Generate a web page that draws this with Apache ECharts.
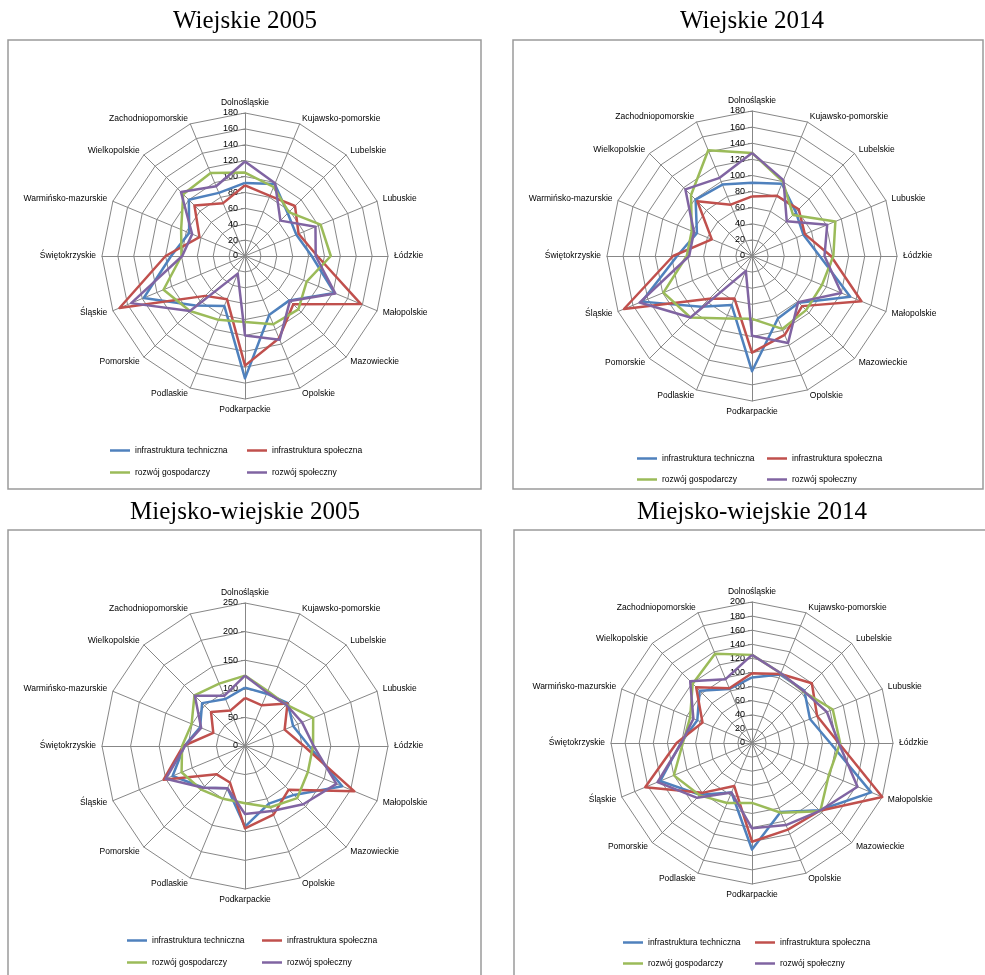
<!DOCTYPE html>
<html>
<head>
<meta charset="utf-8">
<script src="https://cdn.jsdelivr.net/npm/echarts@6/dist/echarts.min.js"></script>
<style>
html,body{margin:0;padding:0;background:#fff;}
#chart{width:985px;height:975px;}
</style>
</head>
<body>
<div id="chart"></div>
<script>
const categories = ['Dolnośląskie','Kujawsko-pomorskie','Lubelskie','Lubuskie','Łódzkie','Małopolskie','Mazowieckie','Opolskie','Podkarpackie','Podlaskie','Pomorskie','Śląskie','Świętokrzyskie','Warmińsko-mazurskie','Wielkopolskie','Zachodniopomorskie'];
const seriesNames = ['infrastruktura techniczna','infrastruktura społeczna','rozwój gospodarczy','rozwój społeczny'];
const panelTitles = ['Wiejskie 2005','Wiejskie 2014','Miejsko-wiejskie 2005','Miejsko-wiejskie 2014'];
const axisMax = [180, 180, 250, 200];
const axisStep = [20, 20, 50, 20];

// Wiejskie 2005
const w2005_tech  = [92, 98, 76, 70, 84, 122, 79, 80, 154, 68, 88, 138, 93, 76, 100, 86];
const w2005_spol  = [89, 82, 89, 73, 91, 158, 86, 112, 138, 59, 71, 171, 100, 62, 90, 72];
const w2005_gosp  = [105, 94, 78, 103, 108, 84, 95, 93, 83, 87, 98, 111, 80, 87, 110, 113];
const w2005_rozw  = [119, 99, 63, 96, 89, 123, 80, 114, 100, 24, 98, 155, 79, 72, 114, 95];
// Wiejskie 2014
const w2014_tech  = [91, 97, 77, 69, 84, 132, 82, 84, 143, 66, 89, 148, 93, 74, 99, 96];
const w2014_spol  = [74, 81, 82, 71, 98, 147, 88, 106, 120, 57, 75, 172, 98, 54, 96, 69];
const w2014_gosp  = [128, 100, 72, 112, 101, 94, 95, 98, 78, 84, 108, 119, 81, 81, 107, 142];
const w2014_rozw  = [128, 102, 61, 101, 90, 120, 81, 117, 99, 20, 108, 151, 78, 78, 117, 105];
// Miejsko-wiejskie 2005
const mw2005_tech = [102, 99, 106, 91, 112, 184, 121, 109, 141, 80, 103, 137, 106, 85, 106, 89];
const mw2005_spol = [84, 77, 105, 75, 103, 207, 108, 130, 144, 69, 70, 154, 108, 60, 84, 67];
const mw2005_gosp = [123, 104, 102, 129, 119, 119, 129, 116, 100, 100, 108, 120, 110, 101, 125, 118];
const mw2005_rozw = [123, 101, 102, 108, 120, 173, 144, 123, 119, 80, 103, 150, 105, 83, 124, 95];
// Miejsko-wiejskie 2014
const mw2014_tech = [93, 105, 105, 89, 111, 183, 135, 106, 151, 76, 104, 141, 101, 84, 105, 83];
const mw2014_spol = [99, 106, 120, 100, 123, 200, 136, 133, 140, 66, 100, 164, 107, 76, 112, 84];
const mw2014_gosp = [125, 107, 103, 124, 125, 118, 137, 107, 85, 92, 105, 120, 98, 95, 119, 137];
const mw2014_rozw = [125, 107, 104, 115, 123, 162, 136, 126, 121, 76, 110, 145, 100, 90, 124, 98];

const panelData = [
  [w2005_tech, w2005_spol, w2005_gosp, w2005_rozw],
  [w2014_tech, w2014_spol, w2014_gosp, w2014_rozw],
  [mw2005_tech, mw2005_spol, mw2005_gosp, mw2005_rozw],
  [mw2014_tech, mw2014_spol, mw2014_gosp, mw2014_rozw]
];

const colors = ['#4F81BD', '#C0504D', '#9BBB59', '#8064A2'];
const centers = [[245, 256], [752, 256], [245, 746], [752, 743]];
const radii = [143, 145, 143, 141];
const titlePos = [[245, 9], [752, 9], [245, 500], [752, 500]];
const boxes = [[8, 40, 473, 449], [513, 40, 470, 449], [8, 530, 473, 470], [514, 530, 480, 470]];
const legendPos = [
  [[110, 452], [247, 452], [110, 474], [247, 474]],
  [[637, 460], [767, 460], [637, 481], [767, 481]],
  [[127, 942], [262, 942], [127, 964], [262, 964]],
  [[623, 944], [755, 944], [623, 965], [755, 965]]
];

// ECharts radar lays indicators counter-clockwise; reorder so categories run clockwise from top
const order = [0];
for (let i = categories.length - 1; i >= 1; i--) order.push(i);

const FONT = 'Liberation Sans';
const gridColor = '#878787';

const radar = [], series = [], title = [], legend = [], graphic = [];
for (let p = 0; p < 4; p++) {
  radar.push({
    center: centers[p],
    radius: radii[p],
    startAngle: 90,
    shape: 'polygon',
    splitNumber: axisMax[p] / axisStep[p],
    nameGap: 6,
    axisName: {color: '#000', fontSize: 8.5, fontFamily: FONT},
    splitLine: {lineStyle: {color: gridColor, width: 1}},
    splitArea: {show: false},
    axisLine: {lineStyle: {color: gridColor, width: 1}},
    axisLabel: {show: false, color: '#000', fontSize: 9, fontFamily: FONT, margin: 7},
    axisTick: {show: false, length: 4, lineStyle: {color: gridColor}},
    indicator: order.map(function (ci, i) {
      const o = {name: categories[ci], min: 0, max: axisMax[p]};
      if (i === 0) {
        o.axisLabel = {show: true};
        o.axisTick = {show: true};
      }
      return o;
    })
  });
  series.push({
    type: 'radar',
    radarIndex: p,
    symbol: 'none',
    silent: true,
    data: seriesNames.map(function (n, k) {
      return {
        name: n,
        value: order.map(function (ci) { return panelData[p][k][ci]; }),
        lineStyle: {color: colors[k], width: 2.5},
        itemStyle: {color: colors[k]}
      };
    })
  });
  title.push({
    text: panelTitles[p],
    left: titlePos[p][0],
    top: titlePos[p][1],
    textAlign: 'center',
    padding: 0,
    textStyle: {fontFamily: 'Liberation Serif', fontSize: 25, fontWeight: 'normal', color: '#000'}
  });
  for (let k = 0; k < 4; k++) {
    legend.push({
      data: [seriesNames[k]],
      left: legendPos[p][k][0],
      top: legendPos[p][k][1] - 6,
      padding: 0,
      icon: 'rect',
      itemWidth: 20,
      itemHeight: 2.5,
      selectedMode: false,
      textStyle: {fontSize: 8.5, fontFamily: FONT, color: '#000'}
    });
  }
  graphic.push({
    type: 'rect',
    shape: {x: boxes[p][0], y: boxes[p][1], width: boxes[p][2], height: boxes[p][3]},
    style: {fill: 'none', stroke: '#9a9a9a', lineWidth: 1.5},
    silent: true,
    z: -1
  });
}

const chart = echarts.init(document.getElementById('chart'), null, {renderer: 'canvas'});
chart.setOption({
  backgroundColor: '#fff',
  animation: false,
  title: title,
  legend: legend,
  radar: radar,
  series: series,
  graphic: graphic
});
</script>
</body>
</html>
